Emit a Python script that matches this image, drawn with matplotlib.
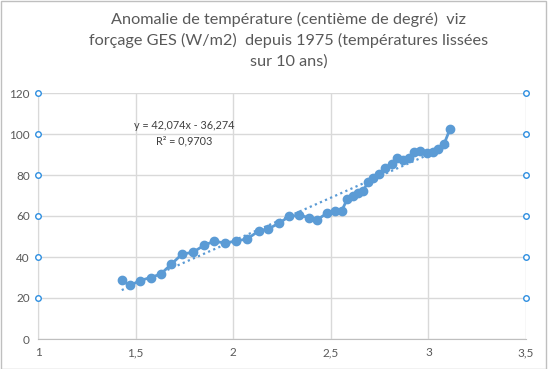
import numpy as np
import matplotlib
matplotlib.use('Agg')
import matplotlib.pyplot as plt
from matplotlib.ticker import FuncFormatter

# forcing GES (W/m2) vs temperature anomaly (hundredths of a degree), smoothed over 10 years
forcing = [1.429, 1.471, 1.523, 1.577, 1.629, 1.683, 1.738, 1.794, 1.852, 1.903,
           1.958, 2.014, 2.072, 2.130, 2.180, 2.236, 2.287, 2.339, 2.387, 2.431,
           2.479, 2.520, 2.556, 2.585, 2.615, 2.640, 2.663, 2.692, 2.718, 2.748,
           2.778, 2.812, 2.841, 2.871, 2.902, 2.928, 2.957, 2.991, 3.022, 3.051,
           3.081, 3.110]
anomaly = [28.6, 26.1, 28.5, 30.0, 31.7, 36.5, 41.4, 42.3, 45.8, 47.7,
           46.8, 47.8, 48.8, 52.7, 53.7, 56.6, 59.8, 60.4, 59.2, 58.2,
           61.3, 62.3, 62.6, 68.4, 69.7, 71.0, 72.0, 76.7, 78.7, 80.3,
           83.3, 85.3, 88.4, 87.3, 88.4, 91.0, 91.6, 90.6, 91.0, 92.7,
           95.3, 102.3]

slope = 42.074
intercept = -36.274
r2 = '0,9703'

title = ("Anomalie de température (centième de degré)  viz\n"
         "forçage GES (W/m2)  depuis 1975 (températures lissées\n"
         "sur 10 ans)")

plt.rcParams['font.family'] = ['Lato', 'DejaVu Sans']

blue = '#5b9bd5'
grid_col = '#d9d9d9'
text_col = '#595959'

fig = plt.figure(figsize=(5.49, 3.69), dpi=100)
ax = fig.add_axes([38 / 549, 1 - 339 / 369, 488 / 549, 246 / 369])

# trend line over the range of the data
x_fit = np.array([forcing[0], forcing[-1]])
ax.plot(x_fit, slope * x_fit + intercept, linestyle=(0, (1, 1.5)), color=blue, lw=1.6, zorder=3)

ax.plot(forcing, anomaly, color=blue, lw=2, marker='o', markersize=6, zorder=4)

ax.set_xlim(1, 3.5)
ax.set_ylim(0, 120)
ax.set_xticks(np.arange(1, 3.51, 0.5))
ax.set_yticks(np.arange(0, 121, 20))
ax.xaxis.set_major_formatter(FuncFormatter(lambda v, p: ('%g' % v).replace('.', ',')))
ax.grid(True, color=grid_col, lw=1)
ax.set_axisbelow(True)
for side in ['top', 'right']:
    ax.spines[side].set_visible(False)
ax.spines['left'].set_color(grid_col)
ax.spines['bottom'].set_color('#bfbfbf')
ax.tick_params(length=0, labelsize=8.5, colors=text_col, pad=6)

# selection handles at the ends of the gridlines
handles_y = np.arange(20, 121, 20)
for xh in [1, 3.5]:
    ax.plot([xh] * len(handles_y), handles_y, linestyle='none', marker='o', markersize=4,
            markerfacecolor='white', markeredgecolor='#2f8fe0', markeredgewidth=1,
            clip_on=False, zorder=5)

ax.text(1.75, 100.3, 'y = 42,074x - 36,274\nR² = ' + r2, ha='center', va='center',
        fontsize=7.8, color='#404040', linespacing=1.45)

fig.text(0.526, 0.967, title, ha='center', va='top', fontsize=11.7, color=text_col, linespacing=1.5)

# chart area border
fig.patches.append(plt.Rectangle((0.001, 0.001), 0.993, 0.997, transform=fig.transFigure,
                                 fill=False, edgecolor='#bfbfbf', lw=1))

fig.savefig('out.png', dpi=100)
plt.close()
